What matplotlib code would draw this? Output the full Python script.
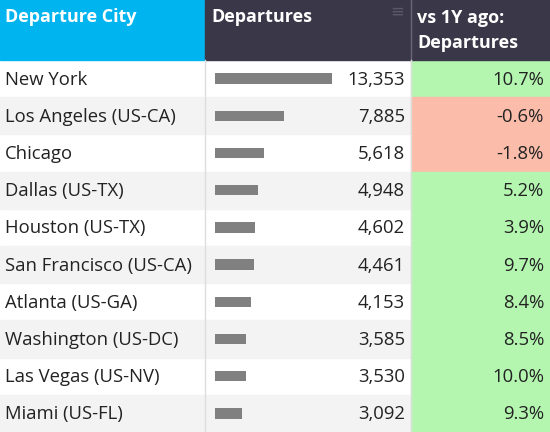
import matplotlib

matplotlib.use("Agg")

import matplotlib.pyplot as plt  # noqa: E402
from matplotlib.patches import Rectangle  # noqa: E402

cities = ["New York", "Los Angeles (US-CA)", "Chicago", "Dallas (US-TX)", "Houston (US-TX)",
          "San Francisco (US-CA)", "Atlanta (US-GA)", "Washington (US-DC)", "Las Vegas (US-NV)",
          "Miami (US-FL)"]
departures = [13353, 7885, 5618, 4948, 4602, 4461, 4153, 3585, 3530, 3092]
yoy = [10.7, -0.6, -1.8, 5.2, 3.9, 9.7, 8.4, 8.5, 10.0, 9.3]

W, H = 550, 432
HEAD = 60
ROW = (H - HEAD) / len(cities)
C1, C2 = 205, 411
FONT = "Open Sans"

fig = plt.figure(figsize=(W / 100, H / 100), dpi=100)
ax = fig.add_axes([0, 0, 1, 1])
ax.set_xlim(0, W)
ax.set_ylim(H, 0)
ax.axis("off")

# header
ax.add_patch(Rectangle((0, 0), C1, HEAD, color="#00b4f0"))
ax.add_patch(Rectangle((C1, 0), W - C1, HEAD, color="#3a3748"))
ax.plot([C2, C2], [0, HEAD], color="#6a6878", lw=1)
ax.plot([C1, C1], [HEAD, H], color="#dddddd", lw=1)
ax.plot([C2, C2], [HEAD, H], color="#dddddd", lw=1)
hkw = dict(color="white", fontsize=13, fontweight="bold", family=FONT, va="center")
ax.text(5, 17, "Departure City", **hkw)
ax.text(C1 + 6, 17, "Departures", **hkw)
ax.text(C2 + 6, 18, "vs 1Y ago:", **hkw)
ax.text(C2 + 6, 43, "Departures", **hkw)
ax.text(397, 12, "\u2261", color="#5a586a", fontsize=12, ha="center", va="center")

tkw = dict(color="#222222", fontsize=13.3, fontweight="medium", family=FONT, va="center")
for i, (city, dep, ch) in enumerate(zip(cities, departures, yoy)):
    top = HEAD + i * ROW
    yc = top + ROW / 2 + 1
    if i % 2 == 1:
        ax.add_patch(Rectangle((0, top), C2, ROW, color="#f3f3f3", zorder=0))
    ax.add_patch(Rectangle((C2, top), W - C2, ROW,
                           color="#b4f6b0" if ch >= 0 else "#fbbcaa", zorder=0))
    ax.text(5, yc, city, **tkw)
    ax.text(405, yc, f"{dep:,}", ha="right", **tkw)
    ax.text(544, yc, f"{ch:.1f}%", ha="right", **tkw)

# bars in their own axes so the value scale does the sizing
bx = fig.add_axes([215 / W, 0, 117 / W, (H - HEAD) / H])
bx.barh(range(len(cities)), departures, height=0.28, color="#808080")
bx.set_xlim(0, max(departures))
bx.set_ylim(len(cities) - 0.5, -0.5)
bx.axis("off")

fig.savefig("out.png", dpi=100)
